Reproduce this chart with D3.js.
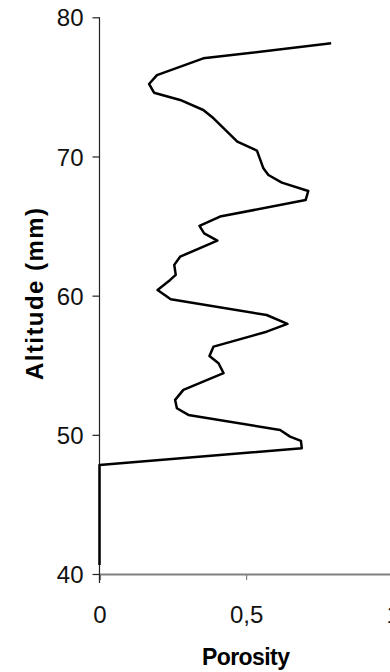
<!DOCTYPE html>
<html>
<head>
<meta charset="utf-8">
<script src="https://cdn.jsdelivr.net/npm/d3@7"></script>
<style>
  body { margin: 0; background: #fff; }
  svg { display: block; }
  text { font-family: "Liberation Sans", Arial, sans-serif; }
</style>
</head>
<body>
<svg id="chart" width="390" height="672"></svg>
<script>
// porosity profile, read top to bottom
let altitude = [78.13, 77.05, 75.85, 75.21, 74.58, 74.06, 73.34, 72.74, 71.06, 70.42,
  69.15, 68.67, 68.12, 67.52, 66.87, 65.68, 65.01, 64.48, 63.95, 62.80,
  62.21, 61.49, 61.13, 60.41, 59.74, 58.61, 57.97, 57.41, 56.34, 55.67,
  55.14, 54.43, 53.23, 52.51, 51.91, 51.43, 50.35, 49.87, 49.56, 49.04,
  47.84, 40.65];
let porosity = [0.790, 0.354, 0.196, 0.169, 0.186, 0.275, 0.354, 0.389, 0.470, 0.537,
  0.559, 0.576, 0.622, 0.712, 0.703, 0.411, 0.341, 0.357, 0.402, 0.275,
  0.255, 0.260, 0.241, 0.198, 0.243, 0.570, 0.641, 0.570, 0.389, 0.375,
  0.406, 0.423, 0.286, 0.258, 0.264, 0.303, 0.616, 0.650, 0.687, 0.690,
  0.0, 0.0];
let yTicks = [40, 50, 60, 70, 80];
let xTicks = [0, 0.5, 1];
let xTickLabels = ["0", "0,5", "1"];

let svg = d3.select("#chart");

let x = d3.scaleLinear().domain([0, 1]).range([99.5, 392.7]);
let y = d3.scaleLinear().domain([40, 80]).range([574, 17.3]);

// x axis (grey)
let xAxis = svg.append("g")
  .attr("transform", "translate(0," + y(40) + ")")
  .call(d3.axisBottom(x).tickValues(xTicks).tickSize(6).tickFormat(function(d, i) {
    return xTickLabels[i];
  }));
xAxis.select(".domain").attr("stroke", "#808080").attr("stroke-width", 2.2);
xAxis.selectAll(".tick line").attr("stroke", "#808080").attr("stroke-width", 1.2);
xAxis.selectAll(".tick text")
  .attr("font-size", 24)
  .attr("fill", "#111")
  .attr("y", 49)
  .attr("dy", 0);

// y axis
let yAxis = svg.append("g")
  .attr("transform", "translate(" + x(0) + ",0)")
  .call(d3.axisLeft(y).tickValues(yTicks).tickSize(7).tickSizeOuter(0));
yAxis.select(".domain").attr("stroke", "#222").attr("stroke-width", 1.2)
  .attr("d", "M0," + y(80) + "V" + (y(40) + 9));
yAxis.selectAll(".tick line").attr("stroke", "#222").attr("stroke-width", 1.2);
yAxis.selectAll(".tick text")
  .attr("font-size", 24)
  .attr("fill", "#111")
  .attr("x", -16)
  .attr("dy", "0.36em");

// data line
let line = d3.line()
  .x(function(d, i) { return x(porosity[i]); })
  .y(function(d) { return y(d); });

svg.append("path")
  .datum(altitude)
  .attr("fill", "none")
  .attr("stroke", "#000")
  .attr("stroke-width", 2.5)
  .attr("stroke-linejoin", "round")
  .attr("d", line);

// axis titles
svg.append("text")
  .attr("transform", "translate(43,294) rotate(-90)")
  .attr("text-anchor", "middle")
  .attr("font-size", 24)
  .attr("font-weight", "bold")
  .attr("textLength", 172)
  .text("Altitude (mm)");

svg.append("text")
  .attr("x", 246)
  .attr("y", 665)
  .attr("text-anchor", "middle")
  .attr("font-size", 23)
  .attr("font-weight", "bold")
  .attr("textLength", 88)
  .text("Porosity");
</script>
</body>
</html>
